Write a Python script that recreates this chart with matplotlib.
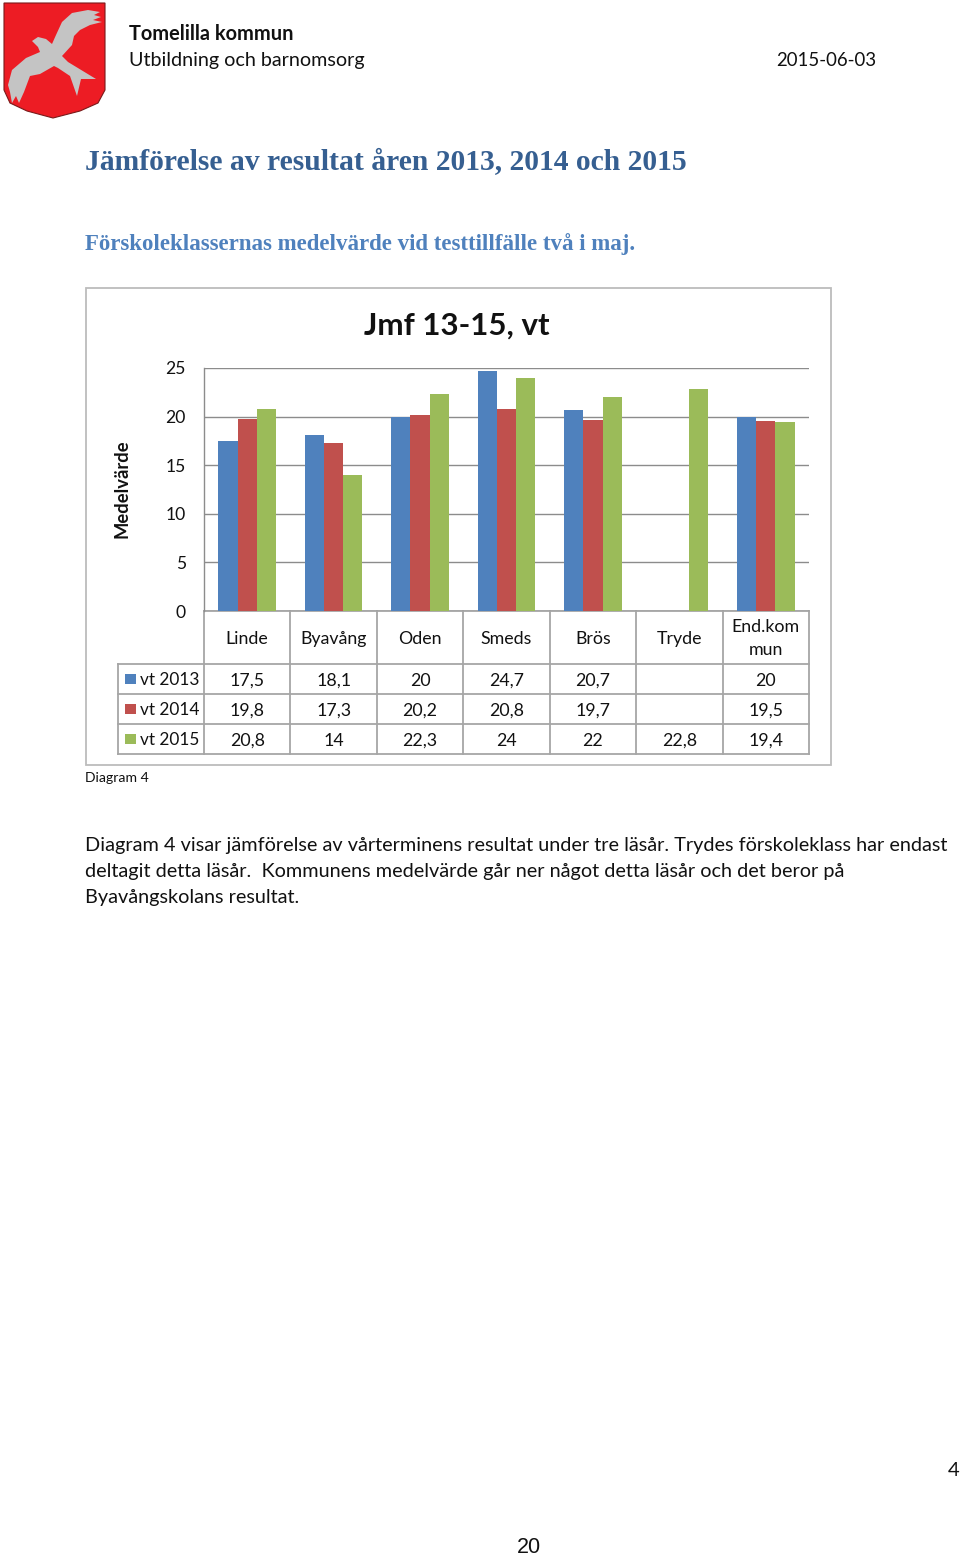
from matplotlib import pyplot as plt
from matplotlib.patches import Polygon, Rectangle
import numpy as np

plt.rcParams['font.family'] = ['Lato', 'DejaVu Sans']

schools = ['Linde', 'Byavång', 'Oden', 'Smeds', 'Brös', 'Tryde', 'End.kom\nmun']
series_names = ['vt 2013', 'vt 2014', 'vt 2015']
vt2013 = [17.5, 18.1, 20, 24.7, 20.7, None, 20]
vt2014 = [19.8, 17.3, 20.2, 20.8, 19.7, None, 19.5]
vt2015 = [20.8, 14, 22.3, 24, 22, 22.8, 19.4]
yticks = [0, 5, 10, 15, 20, 25]

colors = ['#4F81BD', '#C0504D', '#9BBB59']
grid_col = '#8c8c8c'
table_col = '#a6a6a6'
W, H = 960, 1556

fig = plt.figure(figsize=(W / 100, H / 100), dpi=100)

# page layer in pixel coords
page = fig.add_axes([0, 0, 1, 1])
page.set_xlim(0, W)
page.set_ylim(H, 0)
page.axis('off')

# logo
shield = [(4, 3), (105, 3), (105, 90), (98, 103), (80, 111), (53, 118), (27, 111), (10, 103), (4, 90)]
page.add_patch(Polygon(shield, fc='#ED1C24', ec='#7a1a1a', lw=0.8))
bird = [(32, 41), (38, 37), (46, 39), (52, 44), (56, 35), (62, 22), (72, 13), (88, 10), (100, 12), (94, 15),
        (101, 17), (93, 20), (102, 22), (90, 25), (80, 30), (74, 36), (72, 45), (62, 56), (68, 62), (96, 79),
        (81, 79), (77, 96), (70, 76), (58, 68), (54, 66), (40, 74), (30, 76), (24, 92), (19, 103), (16, 96),
        (12, 103), (10, 92), (8, 85), (12, 70), (26, 58), (40, 52), (38, 47)]
page.add_patch(Polygon(bird, fc='#C4C4C4', ec='none'))

# header
page.text(129, 40, 'Tomelilla kommun', fontsize=14.4, fontweight='bold', color='#111111')
page.text(129, 66, 'Utbildning och barnomsorg', fontsize=14.2, color='#111111')
page.text(876, 66, '2015-06-03', fontsize=13.4, color='#111111', ha='right')

page.text(85, 170, 'Jämförelse av resultat åren 2013, 2014 och 2015', fontsize=21.3, fontweight='bold',
          color='#365F91', family='Liberation Serif')
page.text(85, 250, 'Förskoleklassernas medelvärde vid testtillfälle två i maj.', fontsize=16.5,
          fontweight='bold', color='#4F81BD', family='Liberation Serif')

# chart frame
page.add_patch(Rectangle((85.5, 287.5), 745, 477, fc='white', ec='#bcbcbc', lw=1.3))

page.text(457, 335, 'Jmf 13-15, vt', fontsize=22.5, fontweight='bold', ha='center', color='#111111')
page.text(122, 489, 'Medelvärde', fontsize=13.2, fontweight='bold', rotation=90, ha='center', va='center',
          color='#111111')

# bars
left, right, top, bottom = 204, 809, 368, 611
ax = fig.add_axes([left / W, 1 - bottom / H, (right - left) / W, (bottom - top) / H])
ax.set_zorder(2)
ax.patch.set_alpha(0)
ax.set_xlim(0, len(schools))
ax.set_ylim(0, 25)
x = np.arange(len(schools)) + 0.5
w = 0.222
for i, vals in enumerate([vt2013, vt2014, vt2015]):
    ys = [np.nan if v is None else v for v in vals]
    ax.bar(x + (i - 1) * w, ys, w, color=colors[i], zorder=3)
ax.set_yticks(yticks)
ax.set_xticks([])
ax.tick_params(axis='y', length=0, labelsize=12.6, pad=13, labelcolor='#111111')
ax.grid(axis='y', color=grid_col, lw=1, zorder=1)
for s in ['top', 'right', 'bottom']:
    ax.spines[s].set_visible(False)
ax.spines['left'].set_color(grid_col)
ax.spines['left'].set_linewidth(1)

# data table under the axis
col_w = (right - left) / len(schools)
row_y = [611, 664, 694, 724, 754]
col_x = [left + col_w * i for i in range(len(schools) + 1)]
legend_x = 118
line_kw = dict(color=table_col, lw=1.3, zorder=2)
for xx in col_x:
    page.plot([xx, xx], [row_y[0], row_y[-1]], **line_kw)
page.plot([legend_x, legend_x], [row_y[1], row_y[-1]], **line_kw)
page.plot([left, right], [row_y[0], row_y[0]], **line_kw)
for yy in row_y[1:]:
    page.plot([legend_x, right], [yy, yy], **line_kw)

for i, name in enumerate(schools):
    cx = left + col_w * (i + 0.5)
    page.text(cx, (row_y[0] + row_y[1]) / 2 + 1, name, fontsize=12.8, ha='center', va='center',
              color='#111111', linespacing=1.55)

for r, (name, vals) in enumerate(zip(series_names, [vt2013, vt2014, vt2015])):
    cy = (row_y[r + 1] + row_y[r + 2]) / 2
    page.add_patch(Rectangle((125, cy - 5.5), 10.5, 10.5, fc=colors[r], ec='none'))
    page.text(140, cy + 1, name, fontsize=12.4, va='center', color='#111111')
    for i, v in enumerate(vals):
        if v is None:
            continue
        label = str(v).replace('.', ',')
        page.text(left + col_w * (i + 0.5), cy + 1.5, label, fontsize=12.8, ha='center', va='center',
                  color='#111111')

page.text(85, 782, 'Diagram 4', fontsize=10.1, color='#111111')

body = ['Diagram 4 visar jämförelse av vårterminens resultat under tre läsår. Trydes förskoleklass har endast',
        'deltagit detta läsår.  Kommunens medelvärde går ner något detta läsår och det beror på',
        'Byavångskolans resultat.']
for i, line in enumerate(body):
    page.text(85, 851 + i * 26, line, fontsize=14.3, color='#111111')

page.text(960, 1476, '4', fontsize=14.6, ha='right', color='#111111')
page.text(529, 1553, '20', fontsize=15.5, ha='center', family='Liberation Sans', color='#111111')

fig.savefig('out.png', dpi=100)
